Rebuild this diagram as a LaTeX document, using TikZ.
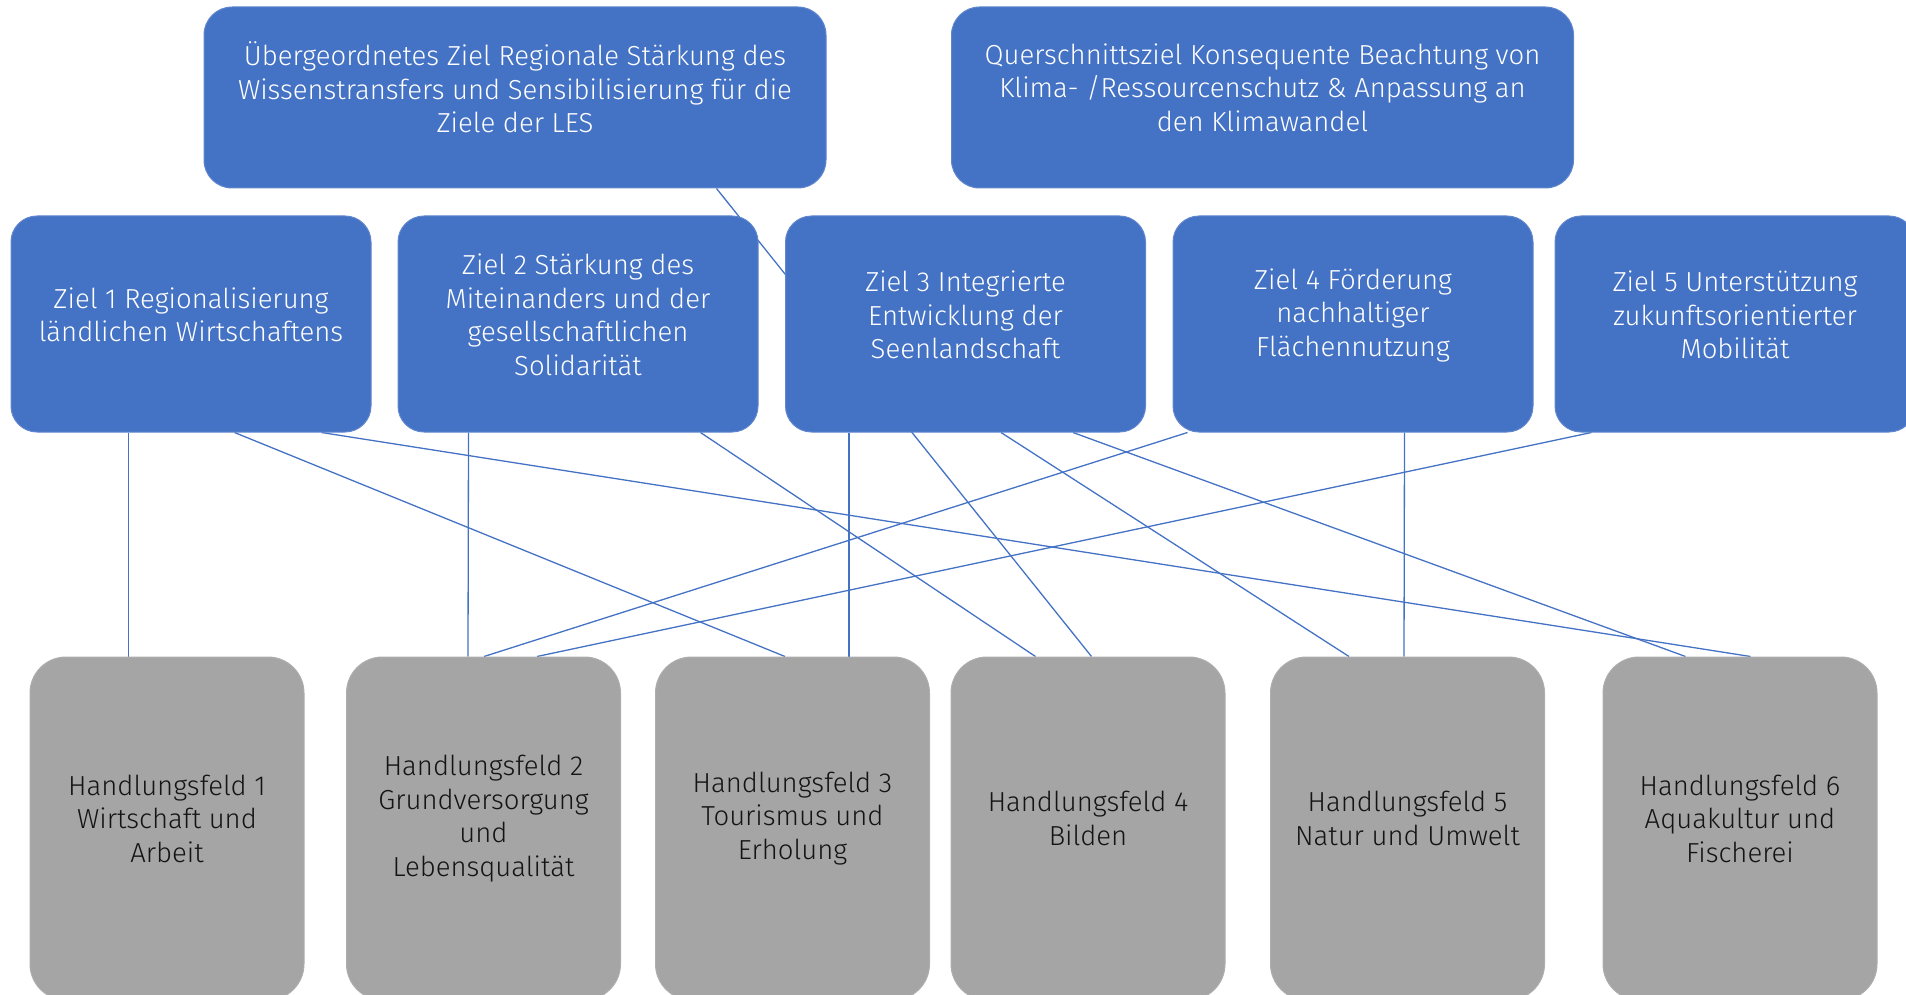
\documentclass[tikz,border=0pt]{standalone}
\usepackage{fontspec}
\setmainfont{Fira Sans}[UprightFont=* Light]
\usetikzlibrary{backgrounds}
\definecolor{Blau}{RGB}{68,114,196}
\definecolor{Grau}{RGB}{165,165,165}
\definecolor{Schrift}{RGB}{20,20,20}
\newcommand{\boxfont}{\fontsize{27.5}{33.5}\selectfont}
\tikzset{
  topbox/.style={fill=Blau, draw=Blau!85!white, line width=1pt, rounded corners=28pt,
    minimum width=622pt, minimum height=181pt},
  zielbox/.style={fill=Blau, draw=Blau!85!white, line width=1pt, rounded corners=26pt,
    minimum width=360pt, minimum height=216pt},
  feldbox/.style={fill=Grau, draw=Grau!90!white, line width=1pt, rounded corners=36pt,
    minimum width=274pt, minimum height=343pt},
  weiss/.style={text=white, align=center, font=\boxfont, inner sep=0pt},
  schwarz/.style={text=Schrift, align=center, font=\boxfont, inner sep=0pt},
  link/.style={draw=Blau, line width=1.3pt}
}
\newcommand{\ziel}[4]{\node[zielbox] (#1) at (#2,#3) {};
  \node[weiss] (#1t) at ([yshift=9pt]#1.center) {#4};}
\newcommand{\feld}[4]{\node[feldbox] (#1) at (#2,#3) {};
  \node[schwarz] (#1t) at ([yshift=10pt]#1.center) {#4};}
% from the bottom of one box to the top of another, offsets from the left edges
\newcommand{\verbinde}[4]{\draw[link] ([xshift=#2pt]#1.south west) -- ([xshift=#4pt]#3.north west);}

\begin{document}
\begin{tikzpicture}[x=1pt,y=-1pt]
\useasboundingbox (0,0) rectangle (1906,995);
\clip (0,0) rectangle (1906,995);

% oberste Ebene
\node[topbox] (ueber) at (515,97.5) {};
\node[weiss] (uebert) at ([yshift=10pt]ueber.center) {Übergeordnetes Ziel Regionale Stärkung des\\Wissenstransfers und Sensibilisierung für die\\Ziele der LES};
\node[topbox] (quer) at (1262.5,97.5) {};
\node[weiss] (quert) at ([yshift=10pt]quer.center) {Querschnittsziel Konsequente Beachtung von\\Klima- /Ressourcenschutz \& Anpassung an\\den Klimawandel};

% Ziele
\ziel{z1}{191}{324}{Ziel 1 Regionalisierung\\ländlichen Wirtschaftens}
\ziel{z2}{578}{324}{Ziel 2 Stärkung des\\Miteinanders und der\\gesellschaftlichen\\Solidarität}
\ziel{z3}{965.5}{324}{Ziel 3 Integrierte\\Entwicklung der\\Seenlandschaft}
\ziel{z4}{1353}{324}{Ziel 4 Förderung\\nachhaltiger\\Flächennutzung}
\ziel{z5}{1735}{324}{Ziel 5 Unterstützung\\zukunftsorientierter\\Mobilität}

% Handlungsfelder
\feld{h1}{167}{828.5}{Handlungsfeld 1\\Wirtschaft und\\Arbeit}
\feld{h2}{483.5}{828.5}{Handlungsfeld 2\\Grundversorgung\\und\\Lebensqualität}
\feld{h3}{792.5}{828.5}{Handlungsfeld 3\\Tourismus und\\Erholung}
\feld{h4}{1088}{828.5}{Handlungsfeld 4\\Bilden}
\feld{h5}{1407.5}{828.5}{Handlungsfeld 5\\Natur und Umwelt}
\feld{h6}{1740}{828.5}{Handlungsfeld 6\\Aquakultur und\\Fischerei}

\begin{scope}[on background layer]
\verbinde{ueber}{513}{h4}{141}
\verbinde{z1}{118}{h1}{99}
\verbinde{z1}{224}{h3}{130}
\verbinde{z1}{311}{h6}{148}
\verbinde{z2}{71}{h2}{122}
\verbinde{z2}{303}{h4}{85}
\verbinde{z3}{64}{h3}{194}
\verbinde{z3}{216}{h5}{79}
\verbinde{z3}{288}{h6}{83}
\verbinde{z4}{15}{h2}{138}
\verbinde{z4}{232}{h5}{134}
\verbinde{z5}{37}{h2}{191}
\end{scope}
\end{tikzpicture}
\end{document}
